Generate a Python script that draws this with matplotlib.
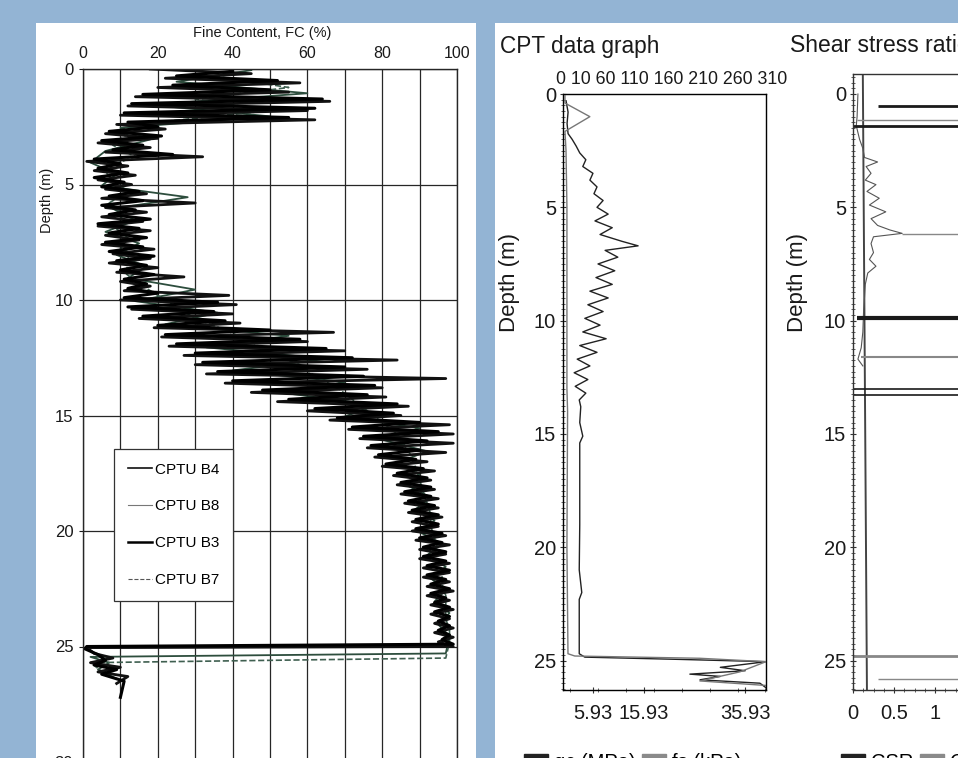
import matplotlib.pyplot as plt
from matplotlib.patches import Rectangle, Patch
from matplotlib.lines import Line2D
from matplotlib.ticker import MultipleLocator

plt.rcParams['font.family'] = ['Liberation Sans', 'DejaVu Sans']

W, H = 958, 758
BLUE = '#93b4d4'


def fx(px):
    return px / W


def fy(py):
    return 1 - py / H


# ---------------- Fine content (left panel) ----------------
fc_ticks = [0, 20, 40, 60, 80, 100]
depth_ticks_fc = [0, 5, 10, 15, 20, 25, 30]

depth_a = [0.0, 0.2, 0.4, 0.6, 0.8, 1.0, 1.2, 1.4, 1.6, 1.8,
           2.0, 2.2, 2.4, 2.6, 2.8, 3.0, 3.2, 3.4, 3.6, 3.8,
           4.0, 4.2, 4.4, 4.6, 4.8, 5.0, 5.2, 5.4, 5.6, 5.8,
           6.0, 6.2, 6.4, 6.6, 6.8, 7.0, 7.2, 7.4, 7.6, 7.8,
           8.0, 8.2, 8.4, 8.6, 8.8, 9.0, 9.2, 9.4, 9.6, 9.8,
           10.0, 10.2, 10.4, 10.6, 10.8, 11.0, 11.2, 11.4, 11.6, 11.8,
           12.0, 12.2, 12.4, 12.6, 12.8, 13.0, 13.2, 13.4, 13.6, 13.8,
           14.0, 14.2, 14.4, 14.6, 14.8, 15.0, 15.2, 15.4, 15.6, 15.8,
           16.0, 16.2, 16.4, 16.6, 16.8, 17.0, 17.2, 17.4, 17.6, 17.8,
           18.0, 18.2, 18.4, 18.6, 18.8, 19.0, 19.2, 19.4, 19.6, 19.8,
           20.0, 20.2, 20.4, 20.6, 20.8, 21.0, 21.2, 21.4, 21.6, 21.8,
           22.0, 22.2, 22.4, 22.6, 22.8, 23.0, 23.2, 23.4, 23.6, 23.8,
           24.0, 24.2, 24.4, 24.6, 24.8, 25.0]
fc_b4 = [18, 45, 22, 58, 20, 55, 14, 66, 12, 60,
         10, 62, 9, 22, 6, 20, 4, 18, 6, 32,
         1, 12, 3, 14, 4, 13, 6, 17, 5, 30,
         6, 17, 5, 16, 4, 18, 6, 15, 5, 19,
         8, 18, 7, 20, 9, 27, 10, 18, 11, 39,
         10, 41, 13, 40, 15, 42, 19, 67, 21, 60,
         23, 70, 27, 84, 30, 76, 33, 97, 38, 80,
         45, 81, 52, 87, 60, 85, 66, 98, 71, 99,
         74, 99, 76, 97, 78, 92, 80, 94, 83, 93,
         84, 94, 85, 95, 86, 95, 87, 96, 88, 95,
         88, 97, 89, 98, 90, 97, 90, 98, 91, 98,
         91, 98, 92, 99, 92, 98, 93, 99, 93, 98,
         94, 99, 94, 99, 95, 99]
tail_b4_depth = [25.05, 25.3, 25.5, 25.7, 25.9, 26.1, 26.3, 26.6]
tail_b4_fc = [1, 3, 8, 2, 10, 4, 12, 9]

depth_b = [0.1, 0.3, 0.5, 0.7, 0.9, 1.1, 1.3, 1.5, 1.7, 1.9,
           2.1, 2.3, 2.5, 2.7, 2.9, 3.1, 3.3, 3.5, 3.7, 3.9,
           4.1, 4.3, 4.5, 4.7, 4.9, 5.1, 5.3, 5.5, 5.7, 5.9,
           6.1, 6.3, 6.5, 6.7, 6.9, 7.1, 7.3, 7.5, 7.7, 7.9,
           8.1, 8.3, 8.5, 8.7, 8.9, 9.1, 9.3, 9.5, 9.7, 9.9,
           10.1, 10.3, 10.5, 10.7, 10.9, 11.1, 11.3, 11.5, 11.7, 11.9,
           12.1, 12.3, 12.5, 12.7, 12.9, 13.1, 13.3, 13.5, 13.7, 13.9,
           14.1, 14.3, 14.5, 14.7, 14.9, 15.1, 15.3, 15.5, 15.7, 15.9,
           16.1, 16.3, 16.5, 16.7, 16.9, 17.1, 17.3, 17.5, 17.7, 17.9,
           18.1, 18.3, 18.5, 18.7, 18.9, 19.1, 19.3, 19.5, 19.7, 19.9,
           20.1, 20.3, 20.5, 20.7, 20.9, 21.1, 21.3, 21.5, 21.7, 21.9,
           22.1, 22.3, 22.5, 22.7, 22.9, 23.1, 23.3, 23.5, 23.7, 23.9,
           24.1, 24.3, 24.5, 24.7, 24.9]
fc_b3 = [40, 25, 52, 24, 50, 16, 64, 13, 62, 11,
         55, 12, 20, 7, 21, 5, 16, 8, 24, 3,
         10, 4, 12, 3, 11, 5, 15, 7, 16, 5,
         14, 7, 18, 4, 15, 7, 17, 6, 16, 7,
         19, 9, 17, 10, 19, 11, 17, 12, 20, 11,
         36, 12, 35, 16, 38, 20, 50, 22, 58, 25,
         65, 30, 72, 32, 70, 36, 75, 40, 78, 48,
         76, 55, 84, 62, 83, 68, 90, 72, 95, 75,
         92, 77, 90, 79, 89, 81, 91, 84, 92, 85,
         93, 86, 93, 87, 94, 88, 95, 89, 95, 89,
         96, 90, 96, 91, 97, 91, 97, 92, 98, 92,
         97, 93, 98, 93, 97, 94, 98, 94, 98, 95,
         98, 95, 98, 96, 99]
tail_b3_depth = [25.0, 25.1, 25.35, 25.6, 25.8, 26.0, 26.2, 26.5, 27.2]
tail_b3_fc = [1, 0.5, 4, 6, 3, 9, 5, 11, 10]

depth_c = [0.05, 0.55, 1.05, 1.55, 2.05, 2.55, 3.05, 3.55, 4.05, 4.55,
           5.05, 5.55, 6.05, 6.55, 7.05, 7.55, 8.05, 8.55, 9.05, 9.55,
           10.05, 10.55, 11.05, 11.55, 12.05, 12.55, 13.05, 13.55, 14.05, 14.55,
           15.05, 15.55, 16.05, 16.55, 17.05, 17.55, 18.05, 18.55, 19.05, 19.55,
           20.05, 20.55, 21.05, 21.55, 22.05, 22.55, 23.05, 23.55, 24.05, 24.55]
fc_b8 = [45, 25, 60, 18, 50, 10, 18, 6, 2, 9,
         5, 28, 8, 14, 6, 15, 9, 17, 12, 30,
         14, 36, 22, 55, 33, 65, 40, 70, 55, 78,
         70, 90, 80, 92, 84, 90, 87, 93, 89, 94,
         90, 96, 92, 97, 93, 97, 94, 98, 95, 98]
tail_b8_depth = [25.3, 25.45, 25.7, 26.0, 26.4]
tail_b8_fc = [97, 2, 7, 4, 9]

depth_d = [0.3, 0.8, 1.3, 1.8, 2.3, 2.8, 3.3, 3.8, 4.3, 4.8,
           5.3, 5.8, 6.3, 6.8, 7.3, 7.8, 8.3, 8.8, 9.3, 9.8,
           10.3, 10.8, 11.3, 11.8, 12.3, 12.8, 13.3, 13.8, 14.3, 14.8,
           15.3, 15.8, 16.3, 16.8, 17.3, 17.8, 18.3, 18.8, 19.3, 19.8,
           20.3, 20.8, 21.3, 21.8, 22.3, 22.8, 23.3, 23.8, 24.3, 24.8]
fc_b7 = [35, 55, 30, 50, 20, 12, 8, 14, 5, 8,
         12, 7, 11, 8, 12, 10, 13, 11, 15, 20,
         25, 30, 38, 45, 50, 58, 62, 68, 72, 76,
         80, 84, 86, 88, 89, 90, 91, 92, 93, 93,
         94, 95, 95, 96, 96, 97, 97, 97, 98, 98]
tail_b7_depth = [25.5, 25.7, 26.2]
tail_b7_fc = [97, 2, 6]

# ---------------- CPT data graph (middle panel) ----------------
qc_depth = [0.3, 0.8, 1.3, 1.75, 2.0, 2.3, 2.6, 2.9, 3.2, 3.5, 3.8, 4.1, 4.4,
            4.7, 5.0, 5.3, 5.6, 5.9, 6.2, 6.5, 6.7, 6.9, 7.2, 7.5, 7.8, 8.1,
            8.4, 8.7, 9.0, 9.3, 9.6, 9.9, 10.2, 10.5, 10.8, 11.1, 11.4, 11.7,
            12.0, 12.3, 12.6, 12.9, 13.2, 13.5, 13.8, 14.5, 15.1, 15.4, 17.0,
            19.0, 21.0, 22.0, 22.3, 24.0, 24.7, 24.85, 24.95, 25.05, 25.3,
            25.45, 25.6, 25.7, 25.85, 26.0, 26.2]
qc_mpa = [0.6, 1.0, 0.8, 1.0, 1.8, 2.6, 3.3, 4.5, 3.9, 5.9, 5.3, 6.7, 6.1,
          7.9, 6.7, 8.9, 6.3, 9.7, 7.3, 11.6, 14.8, 8.3, 10.8, 6.9, 10.2, 6.5,
          9.7, 5.3, 8.9, 4.9, 7.9, 4.3, 7.3, 3.9, 8.5, 3.3, 6.7, 2.8,
          5.3, 2.2, 4.9, 2.4, 4.5, 3.2, 3.5, 3.3, 3.9, 3.3, 3.3,
          3.3, 3.2, 3.7, 3.2, 3.2, 3.2, 4.3, 23, 40, 31,
          35.9, 25, 31, 27, 38.8, 40]
fs_depth = [0.0, 0.4, 1.0, 1.65, 2.5, 5.0, 10.0, 13.0, 14.0, 20.0, 24.7,
            24.8, 24.9, 25.05, 25.5, 25.9, 26.1]
fs_kpa = [3, 3, 41, 3, 4.6, 6, 6, 6, 7, 6, 7.6, 18, 209, 310, 270, 209, 310]
qc_ticks = [5.93, 15.93, 35.93]
fs_top_labels = [0, 10, 60, 110, 160, 210, 260, 310]
depth_ticks_cpt = [0, 5, 10, 15, 20, 25]

# ---------------- Shear stress ratio (right panel) ----------------
csr_depth = [0.0, 1.0, 1.4, 2.0, 2.4, 2.8, 3.0, 3.2, 3.5, 3.8, 4.0, 4.3, 4.6,
             4.9, 5.2, 5.5, 5.8, 6.0, 6.15, 6.3, 6.6, 7.0, 7.3, 7.6, 7.9, 8.4,
             9.0, 9.5, 10.5, 11.2, 11.7, 12.0]
csr_value = [0.06, 0.05, 0.04, 0.08, 0.12, 0.14, 0.30, 0.16, 0.22, 0.15, 0.28,
             0.17, 0.32, 0.20, 0.40, 0.22, 0.30, 0.45, 0.60, 0.25, 0.22, 0.25,
             0.20, 0.28, 0.18, 0.15, 0.14, 0.13, 0.12, 0.10, 0.06, 0.12]
crr_depth = [-0.8, 26.3]
crr_value = [0.12, 0.17]
csr_layer_depth = [0.55, 1.4, 9.9, 13.0, 13.3]
csr_layer_start = [0.3, 0.0, 0.05, 0.0, 0.0]
crr_layer_depth = [1.15, 6.2, 11.6, 24.8, 25.8]
crr_layer_start = [0.05, 0.6, 0.1, 0.0, 0.3]
csr_ticks = [0, 0.5, 1, 1.5, 2, 2.5, 3]

# ============================================================
fig = plt.figure(figsize=(W / 100, H / 100), dpi=100, facecolor=BLUE)
fig.add_artist(Rectangle((fx(36), 0), fx(476) - fx(36), fy(23), transform=fig.transFigure,
                         facecolor='white', edgecolor='none', zorder=-1))
fig.add_artist(Rectangle((fx(495), 0), 1 - fx(495), fy(23), transform=fig.transFigure,
                         facecolor='white', edgecolor='none', zorder=-1))

INK = '#1a1a1a'

# ---- left panel
ax1 = fig.add_axes([fx(83), fy(762), fx(457) - fx(83), fy(69) - fy(762)])
ax1.set_facecolor('white')
ax1.set_xlim(0, 100)
ax1.set_ylim(30, 0)
ax1.xaxis.tick_top()
ax1.set_xticks(fc_ticks)
ax1.xaxis.set_minor_locator(MultipleLocator(10))
ax1.set_yticks(depth_ticks_fc)
ax1.grid(which='both', axis='x', color='#262626', lw=0.9)
ax1.grid(which='major', axis='y', color='#262626', lw=0.9)
ax1.tick_params(axis='x', which='both', length=0, pad=6, labelsize=11.5, colors=INK)
ax1.tick_params(axis='y', length=3, pad=4, labelsize=12, colors=INK)
for s in ax1.spines.values():
    s.set_color('#262626')
    s.set_linewidth(1.0)

ax1.plot(fc_b8 + tail_b8_fc, depth_c + tail_b8_depth, color='#2d4d3d', lw=1.3)
ax1.plot(fc_b7 + tail_b7_fc, depth_d + tail_b7_depth, color='#3f5f50', lw=1.2, ls='--')
ax1.plot(fc_b4 + tail_b4_fc, depth_a + tail_b4_depth, color='#111111', lw=2.0)
ax1.plot(fc_b3 + tail_b3_fc, depth_b + tail_b3_depth, color='#000000', lw=2.2)

handles = [Line2D([], [], color='#111111', lw=1.2),
           Line2D([], [], color='#777777', lw=0.8),
           Line2D([], [], color='#000000', lw=1.8),
           Line2D([], [], color='#555555', lw=0.8, ls='--')]
leg = ax1.legend(handles, ['CPTU B4', 'CPTU B8', 'CPTU B3', 'CPTU B7'],
                 loc='upper left', bbox_to_anchor=(0.083, 0.452), borderaxespad=0,
                 fancybox=False, framealpha=1, edgecolor='#333333',
                 fontsize=11, handlelength=1.6, handletextpad=0.15,
                 labelspacing=1.5, borderpad=0.9)
leg.get_frame().set_linewidth(0.9)

ax1.text(0.48, 1.052, 'Fine Content, FC (%)', transform=ax1.transAxes,
         ha='center', va='center', fontsize=10.5, color=INK)
fig.text(fx(47), fy(200), 'Depth (m)', rotation=90, ha='center', va='center',
         fontsize=10.5, color=INK)

# ---- CPT panel
ax2 = fig.add_axes([fx(563), fy(690), fx(766) - fx(563), fy(94) - fy(690)])
ax2.set_facecolor('white')
ax2.set_xlim(0, 40)
ax2.set_ylim(26.3, 0)
ax2.set_yticks(depth_ticks_cpt)
ax2.yaxis.set_minor_locator(MultipleLocator(0.25))
ax2.set_xticks(qc_ticks, [f'{v:.2f}' for v in qc_ticks])
ax2.xaxis.set_minor_locator(MultipleLocator(5.5, offset=1.4))
ax2.tick_params(axis='both', which='major', labelsize=14.5, length=4, direction='inout',
                colors='#333333', labelcolor=INK)
ax2.tick_params(axis='both', which='minor', length=3, direction='inout', colors='#444444')
ax2.tick_params(axis='y', pad=3)
ax2.tick_params(axis='x', pad=8)
for s in ax2.spines.values():
    s.set_color('#333333')
    s.set_linewidth(1.0)
ax2.plot(qc_mpa, qc_depth, color='#222222', lw=1.0)
ax2fs = ax2.twiny()
ax2fs.set_xlim(0, 310)
ax2fs.tick_params(top=False, labeltop=False)
ax2fs.plot(fs_kpa, fs_depth, color='#777777', lw=1.0)

fig.text(fx(500), fy(47), 'CPT data graph', ha='left', va='center', fontsize=16.3, color=INK)
fig.text(fx(556), fy(80), ' '.join(str(v) for v in fs_top_labels), ha='left', va='center',
         fontsize=12.8, color=INK)
fig.text(fx(510), fy(283), 'Depth (m)', rotation=90, ha='center', va='center',
         fontsize=16, color=INK)
fig.legend([Patch(color='#222222'), Patch(color='#8a8a8a')], ['qc (MPa)', 'fs (kPa)'],
           loc='center left', bbox_to_anchor=(fx(506), fy(762)), ncol=2, frameon=False,
           fontsize=14.5, handlelength=1.2, handleheight=0.6, handletextpad=0.3,
           columnspacing=0.3)

# ---- Shear stress ratio panel
ax3 = fig.add_axes([fx(853), fy(690), 246 / W, fy(73.6) - fy(690)])
ax3.set_facecolor('white')
ax3.set_xlim(0, 3)
ax3.set_ylim(26.3, -0.9)
ax3.set_yticks(depth_ticks_cpt)
ax3.yaxis.set_minor_locator(MultipleLocator(0.25))
ax3.set_xticks(csr_ticks, [f'{v:g}' for v in csr_ticks])
ax3.xaxis.set_minor_locator(MultipleLocator(0.125))
ax3.tick_params(axis='both', which='major', labelsize=14.5, length=4, direction='inout',
                colors='#333333', labelcolor=INK)
ax3.tick_params(axis='both', which='minor', length=3, direction='inout', colors='#444444')
ax3.tick_params(axis='y', pad=3)
ax3.tick_params(axis='x', pad=8)
for s in ax3.spines.values():
    s.set_color('#333333')
    s.set_linewidth(1.0)
ax3.plot(crr_value, crr_depth, color='#444444', lw=1.4)
ax3.plot(csr_value, csr_depth, color='#555555', lw=0.8)
ax3.hlines(csr_layer_depth, csr_layer_start, 3, colors='#1a1a1a', lw=[2.0, 2.0, 3.0, 1.2, 1.2])
ax3.hlines(crr_layer_depth, crr_layer_start, 3, colors='#888888', lw=[1.0, 1.0, 1.5, 2.0, 1.0])

fig.text(fx(790), fy(45), 'Shear stress ratio', ha='left', va='center', fontsize=16.5, color=INK)
fig.text(fx(797), fy(283), 'Depth (m)', rotation=90, ha='center', va='center',
         fontsize=16, color=INK)
fig.legend([Patch(color='#222222'), Patch(color='#8a8a8a')], ['CSR', 'CRR'],
           loc='center left', bbox_to_anchor=(fx(823), fy(762)), ncol=2, frameon=False,
           fontsize=14.5, handlelength=1.2, handleheight=0.6, handletextpad=0.3,
           columnspacing=0.3)

fig.savefig('out.png', dpi=100, facecolor=BLUE)
